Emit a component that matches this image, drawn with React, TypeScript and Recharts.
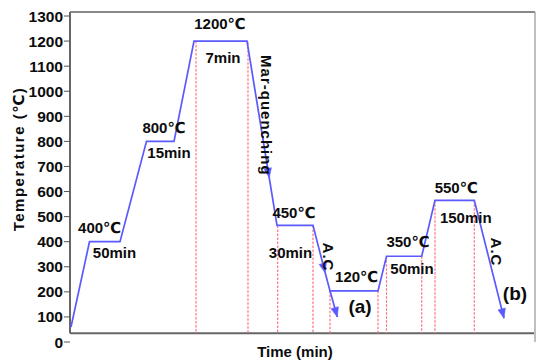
import React from 'react';
import { ComposedChart, Line, XAxis, YAxis, ReferenceLine, Scatter, Label } from 'recharts';

// ---- data (time in arbitrary minutes along the schematic axis, temperature in ℃) ----
const pathTimes = [1, 19.5, 50, 76.5, 104, 124, 177, 198.5, 207, 243, 254, 260, 308, 316.5, 351.7, 365, 404.3, 434];
const pathTemps = [60, 400, 400, 800, 800, 1200, 1200, 673, 465, 465, 294, 204, 204, 342, 342, 565, 565, 95];
const pathArrows = ['', '', '', '', '', '', '', 'mid', '', '', 'mid', '', '', '', '', '', '', 'end'];

const branchTimes = [260, 267.3];
const branchTemps = [204, 100];
const branchArrows = ['', 'end'];

const dashTimes = [126, 178, 207.7, 243, 260, 308, 316.5, 351.7, 365, 404.3];
const dashTops = [1200, 1195, 465, 465, 204, 204, 342, 342, 565, 565];

const noteTexts = ['400℃', '50min', '800℃', '15min', '1200℃', '7min', 'Mar-quenching', '450℃', '30min', 'A.C', '120℃', '(a)', '350℃', '50min', '550℃', '150min', 'A.C', '(b)'];
const noteTimes = [29.7, 44.5, 94, 99, 150, 153, 196.7, 224, 220.5, 258.5, 286.7, 290, 338, 342, 386.3, 395.8, 426.7, 445];
const noteTemps = [456, 356, 854, 755, 1270, 1134, 904, 516, 356, 339, 260, 140, 401, 291.5, 615, 496, 359, 193];
const noteRotated = [false, false, false, false, false, false, true, false, false, true, false, false, false, false, false, false, true, false];
const noteBig = [false, false, false, false, false, false, false, false, false, false, false, true, false, false, false, false, false, true];

const yTicks = [0, 100, 200, 300, 400, 500, 600, 700, 800, 900, 1000, 1100, 1200, 1300];

// ---- layout ----
const W = 536;
const H = 361;
const MARGIN = { top: 12, right: 1, bottom: 0, left: 8 };
const Y_AXIS_W = 62;
const X_AXIS_H = 19;
const X_MAX = 465;
const T_MAX = 1316;
const T_FLOOR = 35;
const PLOT_W = W - MARGIN.left - MARGIN.right - Y_AXIS_W;
const PLOT_H = H - MARGIN.top - MARGIN.bottom - X_AXIS_H;
const KX = PLOT_W / X_MAX;
const KY = PLOT_H / T_MAX;

const FONT = '"Liberation Sans", Arial, "DejaVu Sans", sans-serif';
const BLUE = '#5a5aff';
const RED = '#ff7080';
const INK = '#0c0c0c';

const pathData = pathTimes.map((t, i) => ({ t, T: pathTemps[i], arrow: pathArrows[i] }));
const branchData = branchTimes.map((t, i) => ({ t, T: branchTemps[i], arrow: branchArrows[i] }));
const noteData = noteTexts.map((text, i) => ({ t: noteTimes[i], T: noteTemps[i], text, rot: noteRotated[i], big: noteBig[i] }));

const makeArrowDot = (data: { t: number; T: number; arrow: string }[], name: string) => (props: any) => {
  const { cx, cy, index } = props;
  const d = data[index];
  if (!d || !d.arrow || index === 0) return <g key={`${name}-${index}`} />;
  const prev = data[index - 1];
  const dx = (d.t - prev.t) * KX;
  const dy = -(d.T - prev.T) * KY;
  const ang = Math.atan2(dy, dx);
  const deg = (ang * 180) / Math.PI;
  const shift = d.arrow === 'mid' ? 4.5 : 0;
  const tx = cx + Math.cos(ang) * shift;
  const ty = cy + Math.sin(ang) * shift;
  return (
    <polygon
      key={`${name}-${index}`}
      points="0,0 -9.5,-3.8 -9.5,3.8"
      fill={BLUE}
      stroke={BLUE}
      strokeWidth={0.5}
      transform={`translate(${tx},${ty}) rotate(${deg})`}
    />
  );
};

const NoteShape = (props: any) => {
  const { cx, cy, payload } = props;
  const size = payload.big ? 19 : 15;
  return (
    <text
      x={cx}
      y={cy}
      textAnchor="middle"
      dominantBaseline="central"
      fontSize={size}
      fontWeight={700}
      fontFamily={FONT}
      fill={INK}
      letterSpacing={payload.rot ? 1 : 0}
      transform={payload.rot ? `rotate(90, ${cx}, ${cy})` : undefined}
    >
      {payload.text}
    </text>
  );
};

export default function App() {
  return (
    <div style={{ position: 'absolute', left: 0, top: 0, width: W, height: H, background: '#fff', fontFamily: FONT }}>
      <ComposedChart width={W} height={H} margin={MARGIN}>
        <XAxis
          type="number"
          dataKey="t"
          domain={[0, X_MAX]}
          height={X_AXIS_H}
          tick={false}
          axisLine={false}
          tickLine={false}
        >
          <Label
            content={(p: any) => {
              const vb = p.viewBox;
              return (
                <text
                  x={vb.x + 225}
                  y={vb.y + 9.5}
                  textAnchor="middle"
                  dominantBaseline="central"
                  fontSize={15}
                  fontWeight={700}
                  fontFamily={FONT}
                  fill={INK}
                >
                  Time (min)
                </text>
              );
            }}
          />
        </XAxis>
        <YAxis
          type="number"
          domain={[0, T_MAX]}
          ticks={yTicks}
          width={Y_AXIS_W}
          axisLine={false}
          tickSize={6}
          tickMargin={1}
          tickLine={{ stroke: '#555', strokeWidth: 1 }}
          tick={{ fontSize: 15.5, fontWeight: 700, fill: INK, fontFamily: FONT }}
          interval={0}
        >
          <Label
            content={(p: any) => {
              const vb = p.viewBox;
              const x = vb.x + 10;
              const y = vb.y + 147;
              return (
                <text
                  x={x}
                  y={y}
                  textAnchor="middle"
                  dominantBaseline="central"
                  fontSize={15}
                  fontWeight={700}
                  fontFamily={FONT}
                  fill={INK}
                  letterSpacing={1.5}
                  transform={`rotate(-90, ${x}, ${y})`}
                >
                  Temperature (℃)
                </text>
              );
            }}
          />
        </YAxis>

        {/* frame */}
        <ReferenceLine y={T_MAX} stroke="#888" strokeWidth={2} />
        <ReferenceLine x={X_MAX} stroke="#aaa" strokeWidth={1.5} />
        <ReferenceLine segment={[{ x: 0, y: T_FLOOR }, { x: X_MAX - 1, y: T_FLOOR }]} stroke="#666" strokeWidth={2} />
        <ReferenceLine segment={[{ x: 0, y: T_FLOOR }, { x: 0, y: T_MAX }]} stroke="#666" strokeWidth={2} />

        {dashTimes.map((t, i) => (
          <ReferenceLine
            key={`dash-${i}`}
            segment={[{ x: t, y: dashTops[i] }, { x: t, y: T_FLOOR }]}
            stroke={RED}
            strokeWidth={1.2}
            strokeDasharray="2.5 1.5"
          />
        ))}

        <Line
          data={pathData}
          dataKey="T"
          type="linear"
          stroke={BLUE}
          strokeWidth={1.7}
          dot={makeArrowDot(pathData, 'p')}
          activeDot={false}
          isAnimationActive={false}
        />
        <Line
          data={branchData}
          dataKey="T"
          type="linear"
          stroke={BLUE}
          strokeWidth={1.7}
          dot={makeArrowDot(branchData, 'b')}
          activeDot={false}
          isAnimationActive={false}
        />
        <Scatter data={noteData} dataKey="T" shape={NoteShape} isAnimationActive={false} />
      </ComposedChart>
    </div>
  );
}
